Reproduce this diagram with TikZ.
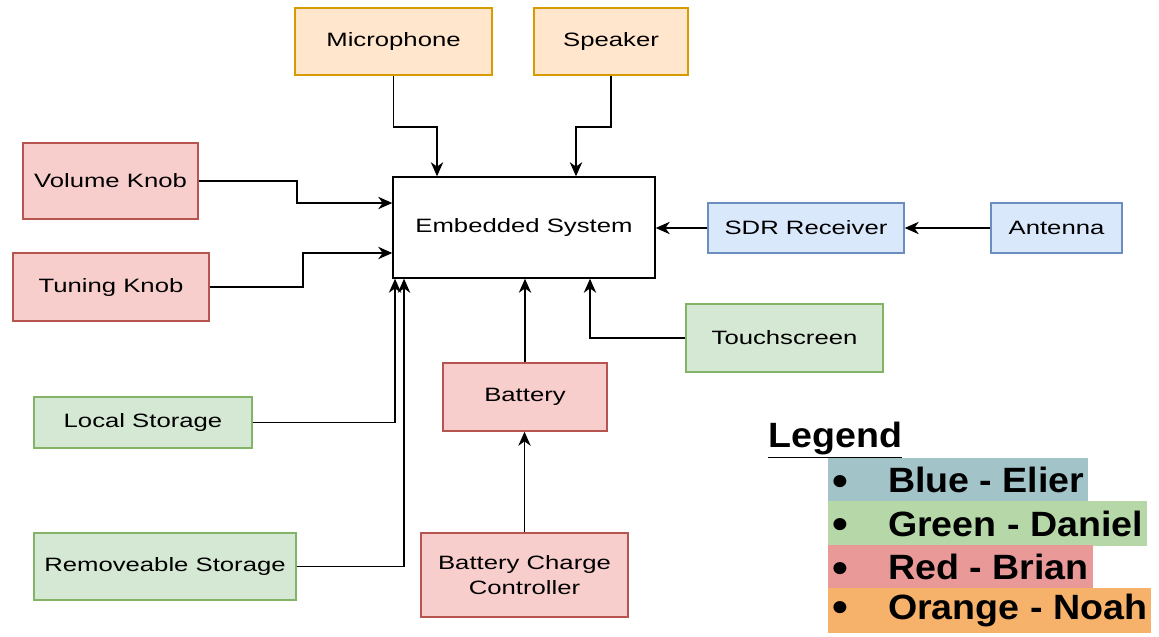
\documentclass[tikz,border=0pt]{standalone}
\usepackage{fontspec}
\setmainfont[FakeStretch=1.33]{Liberation Sans}
\newfontfamily\legendfont[FakeStretch=1.07]{Liberation Sans}
\usetikzlibrary{arrows.meta,positioning}
\definecolor{orfill}{HTML}{FFE6CC}\definecolor{ordraw}{HTML}{D79B00}
\definecolor{redfill}{HTML}{F8CECC}\definecolor{reddraw}{HTML}{B85450}
\definecolor{bluefill}{HTML}{DAE8FC}\definecolor{bluedraw}{HTML}{6C8EBF}
\definecolor{grfill}{HTML}{D5E8D4}\definecolor{grdraw}{HTML}{82B366}
\definecolor{legblue}{HTML}{A2C4C9}\definecolor{leggreen}{HTML}{B6D7A8}
\definecolor{legred}{HTML}{EA9999}\definecolor{legorange}{HTML}{F6B26B}
\newcommand{\legbullet}{\makebox[1.12cm][l]{\raisebox{-1.5pt}[0pt][0pt]{\fontsize{24}{22}\selectfont\textbullet}}}

\begin{document}
\begin{tikzpicture}[x=0.02cm, y=-0.02cm, every node/.style={font=\fontsize{11}{14}\selectfont}]
\tikzset{box/.style={draw, align=center, line width=0.8pt, inner sep=0pt}}
\tikzset{orangebox/.style={box, fill=orfill, draw=ordraw}}
\tikzset{redbox/.style={box, fill=redfill, draw=reddraw}}
\tikzset{bluebox/.style={box, fill=bluefill, draw=bluedraw}}
\tikzset{greenbox/.style={box, fill=grfill, draw=grdraw}}
\tikzset{arrow/.style={-{Stealth[length=8pt,width=7pt,inset=2.5pt]}, line width=1pt}}
\tikzset{legitem/.style={anchor=west, inner xsep=0.08cm, inner ysep=0pt, outer sep=0pt, minimum height=0.89cm, font=\legendfont\bfseries\fontsize{20}{22}\selectfont}}
\useasboundingbox (0,0) rectangle (1159,636);
% blocks
\node[orangebox, minimum width=3.94cm, minimum height=1.34cm] (mic) at (393.5,41.5) {Microphone};
\node[orangebox, minimum width=3.08cm, minimum height=1.34cm] (spk) at (611,41.5) {Speaker};
\node[box, fill=white, draw=black, minimum width=5.24cm, minimum height=2.02cm] (emb) at (524,227.5) {Embedded System};
\node[redbox, minimum width=3.5cm, minimum height=1.52cm] (vol) at (110.5,181) {Volume Knob};
\node[redbox, minimum width=3.92cm, minimum height=1.36cm] (tun) at (111,287) {Tuning Knob};
\node[bluebox, minimum width=3.92cm, minimum height=1cm] (sdr) at (806,228) {SDR Receiver};
\node[bluebox, minimum width=2.62cm, minimum height=1cm] (ant) at (1056.5,228) {Antenna};
\node[greenbox, minimum width=3.94cm, minimum height=1.36cm] (touch) at (784.5,338) {Touchscreen};
\node[redbox, minimum width=3.28cm, minimum height=1.36cm] (bat) at (525,397) {Battery};
\node[redbox, minimum width=4.14cm, minimum height=1.68cm] (bcc) at (524.5,575) {Battery Charge\\Controller};
\node[greenbox, minimum width=4.36cm, minimum height=1.02cm] (loc) at (143,422.5) {Local Storage};
\node[greenbox, minimum width=5.24cm, minimum height=1.34cm] (rem) at (165,566.5) {Removeable Storage};
% connectors
\draw[arrow] (mic.south) -- ++(0,51) -| ([xshift=-1.74cm]emb.north);
\draw[arrow] (spk.south) -- ++(0,51) -| ([xshift=1.04cm]emb.north);
\draw[arrow] (vol.east) -- ++(98,0) |- ([yshift=0.49cm]emb.west);
\draw[arrow] (tun.east) -- ++(93,0) |- ([yshift=-0.51cm]emb.west);
\draw[arrow] (loc.east) -| ([xshift=-2.58cm]emb.south);
\draw[arrow] (rem.east) -| ([xshift=-2.4cm]emb.south);
\draw[arrow] (bat.north) -- (bat.north |- emb.south);
\draw[arrow] (bcc.north) -- (bcc.north |- bat.south);
\draw[arrow] (touch.west) -| ([xshift=1.32cm]emb.south);
\draw[arrow] (sdr.west) -- (sdr.west -| emb.east);
\draw[arrow] (ant.west) -- (sdr.east);
% legend
\node[anchor=base west, inner sep=0pt, font=\legendfont\bfseries\fontsize{20}{22}\selectfont] (legend) at (768,447) {\underline{Legend}};
\node[legitem, fill=legblue] (lblue) at (828,480) {\legbullet Blue - Elier};
\node[legitem, fill=leggreen, below=-0.6pt of lblue.south west, anchor=north west] (lgreen) {\legbullet Green - Daniel};
\node[legitem, fill=legred, below=-0.6pt of lgreen.south west, anchor=north west] (lred) {\legbullet Red - Brian};
\node[legitem, fill=legorange, below=-0.6pt of lred.south west, anchor=north west] (lorange) {\legbullet Orange - Noah};
\end{tikzpicture}
\end{document}
